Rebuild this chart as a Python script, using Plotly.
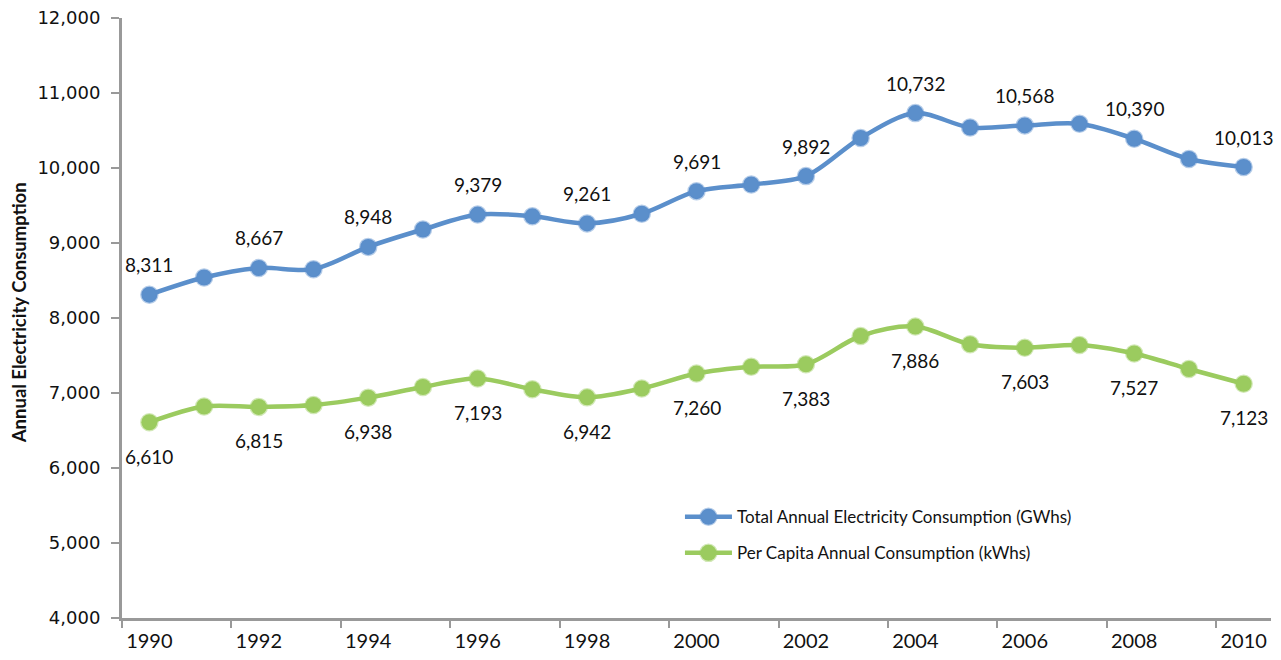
import plotly.graph_objects as go

# Annual electricity consumption, 1990-2010
years = list(range(1990, 2011))
total_gwh = [8311, 8540, 8667, 8650, 8948, 9180, 9379, 9356, 9261, 9390,
             9691, 9780, 9892, 10400, 10732, 10540, 10568, 10590, 10390, 10120, 10013]
per_capita_kwh = [6610, 6820, 6815, 6840, 6938, 7080, 7193, 7050, 6942, 7060,
                  7260, 7350, 7383, 7760, 7886, 7650, 7603, 7640, 7527, 7320, 7123]

year_ticks = list(range(1990, 2011, 2))
y_ticks = list(range(4000, 12001, 1000))

BLUE = "#5B8FCB"
GREEN = "#9BCB5F"
AXIS = "#999999"
LABEL_FONT = "Lato, 'Open Sans', sans-serif"

fig = go.Figure()

series = [
    ("Total Annual Electricity Consumption (GWhs)", total_gwh, BLUE, "rgba(91,143,203,0.45)", "g1"),
    ("Per Capita Annual Consumption (kWhs)", per_capita_kwh, GREEN, "rgba(155,203,95,0.45)", "g2"),
]
for name, vals, col, glow, grp in series:
    fig.add_trace(go.Scatter(
        x=years, y=vals, name=name, legendgroup=grp,
        mode="lines+markers",
        line=dict(color=col, width=4.5, shape="spline", smoothing=0.9),
        marker=dict(size=16, color=col, line=dict(color=glow, width=2.5)),
        hoverinfo="x+y",
    ))

# Value labels on even years: totals above, per-capita below
annotations = []
for yr, v in zip(years, total_gwh):
    if yr % 2 == 0:
        annotations.append(dict(x=yr, y=v, text=f"{v:,}", showarrow=False,
                                yshift=30, font=dict(family=LABEL_FONT, size=19, color="#111111")))
for yr, v in zip(years, per_capita_kwh):
    if yr % 2 == 0:
        annotations.append(dict(x=yr, y=v, text=f"{v:,}", showarrow=False,
                                yshift=-34, font=dict(family=LABEL_FONT, size=19, color="#111111")))

# Vertical axis title
annotations.append(dict(
    x=-0.0896, y=0.508, xref="paper", yref="paper", xanchor="center", yanchor="middle",
    text="<b>Annual Electricity Consumption</b>", textangle=-90, showarrow=False,
    font=dict(family=LABEL_FONT, size=18.5, color="#111111"),
))

fig.update_layout(
    width=1281, height=660,
    margin=dict(l=122, r=10, t=18, b=42, autoexpand=False),
    paper_bgcolor="white", plot_bgcolor="white",
    annotations=annotations,
    showlegend=True,
    legend=dict(
        x=0.4856, y=0.198, xanchor="left", yanchor="top",
        font=dict(family=LABEL_FONT, size=17, color="#111111"),
        bgcolor="rgba(0,0,0,0)", tracegroupgap=11, itemwidth=47,
    ),
    xaxis=dict(
        range=[1989.5, 2010.5], automargin=False,
        tickmode="array", tickvals=year_ticks, ticktext=[str(y) for y in year_ticks],
        ticks="outside", ticklen=3, tickcolor="rgba(0,0,0,0)",
        minor=dict(tickmode="array", tickvals=[y - 0.5 for y in year_ticks],
                   ticks="outside", ticklen=7, tickwidth=2, tickcolor=AXIS),
        showline=True, linecolor=AXIS, linewidth=3,
        showgrid=False, zeroline=False,
        tickfont=dict(family=LABEL_FONT, size=20, color="#111111"),
    ),
    yaxis=dict(
        range=[4000, 12000], automargin=False,
        tickmode="array", tickvals=y_ticks, ticktext=[f"{v:,}" for v in y_ticks],
        ticks="outside", ticklen=8, tickwidth=2, tickcolor=AXIS,
        ticklabelstandoff=7,
        showline=True, linecolor=AXIS, linewidth=3,
        showgrid=False, zeroline=False,
        tickfont=dict(family="'DejaVu Sans', Verdana, sans-serif", size=18, color="#111111"),
    ),
)

fig.write_html("out.html")
